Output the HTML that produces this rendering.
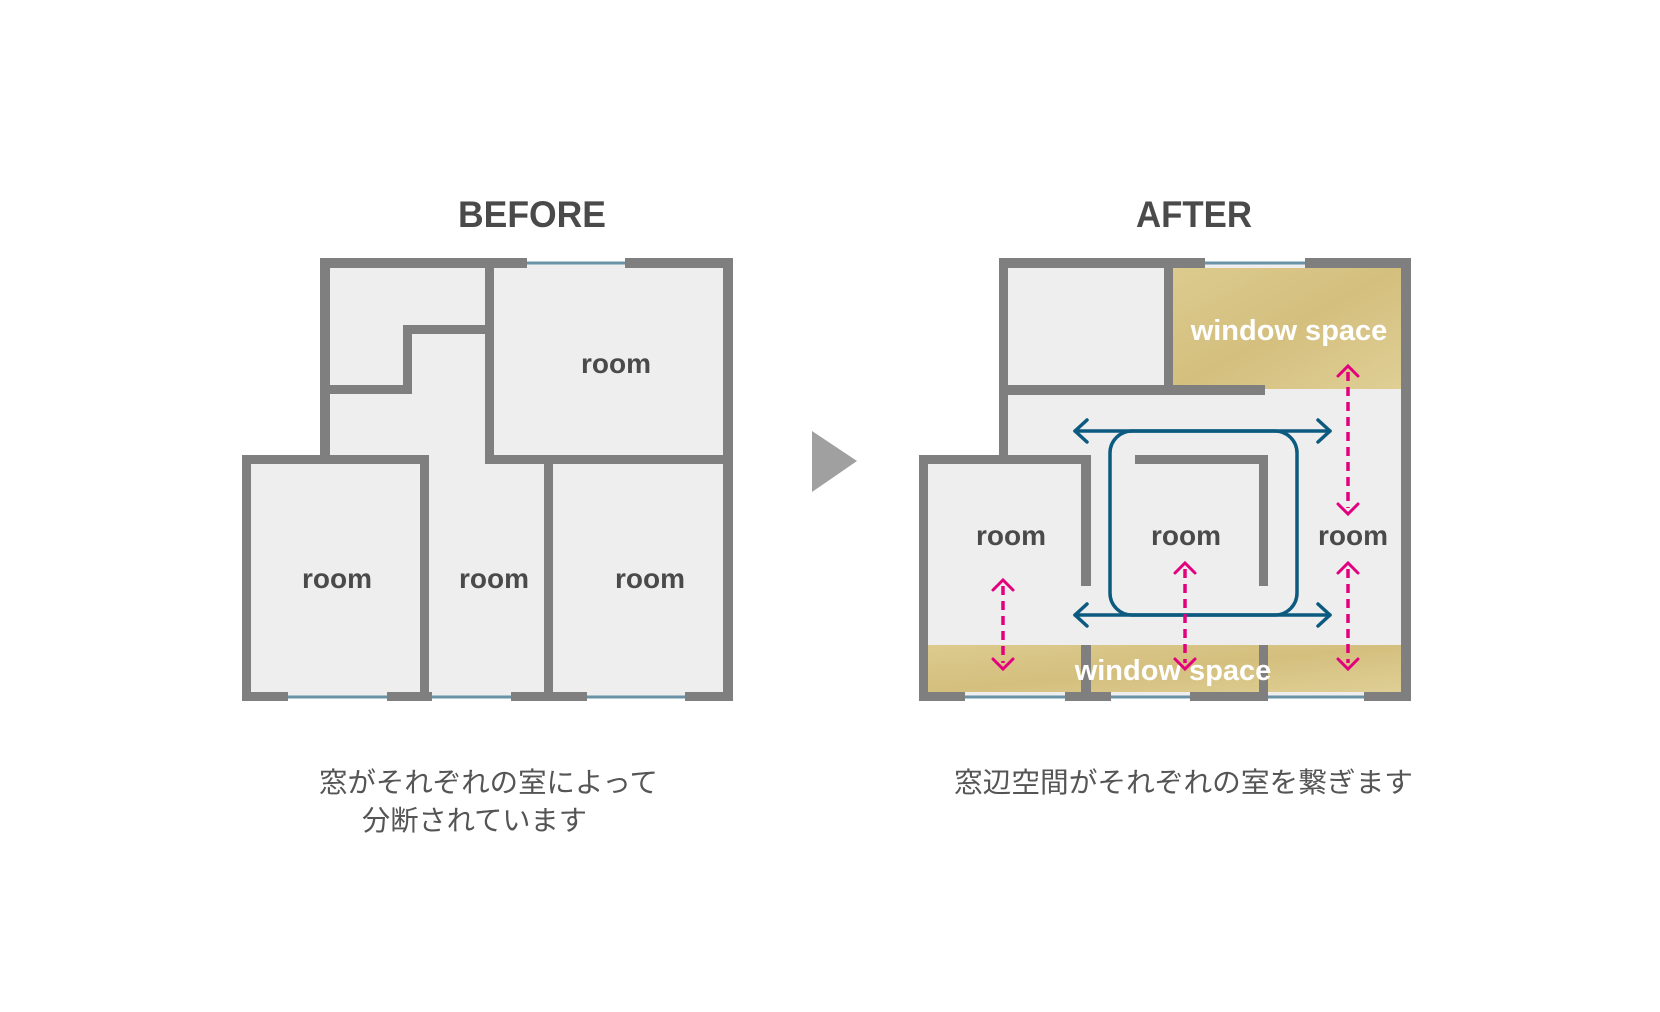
<!DOCTYPE html>
<html><head><meta charset="utf-8"><style>
html,body{margin:0;padding:0;background:#fff;}
svg{display:block;}
</style></head><body>
<svg width="1660" height="1012" viewBox="0 0 1660 1012" xmlns="http://www.w3.org/2000/svg">
<defs>
<linearGradient id="wood" x1="0" y1="0" x2="1" y2="1">
<stop offset="0" stop-color="#dccb8e"/><stop offset="0.5" stop-color="#d4bf7e"/><stop offset="1" stop-color="#dfcf95"/>
</linearGradient>
</defs>
<g font-family="'Liberation Sans',sans-serif" font-weight="bold" fill="#4a4a4a" text-anchor="middle">
<text x="532" y="227" font-size="37" textLength="148" lengthAdjust="spacingAndGlyphs">BEFORE</text>
<text x="1194" y="227" font-size="37" textLength="116" lengthAdjust="spacingAndGlyphs">AFTER</text>
</g>
<!-- BEFORE -->
<path d="M325,263 H728 V696 H247 V460 H325 Z" fill="#eeeeee"/>
<g fill="#7f7f7f">
<rect x="320" y="258" width="207" height="10"/>
<rect x="625" y="258" width="108" height="10"/>
<rect x="723" y="258" width="10" height="443"/>
<rect x="320" y="258" width="10" height="206"/>
<rect x="485" y="258" width="9" height="206"/>
<rect x="403" y="325" width="91" height="9"/>
<rect x="403" y="325" width="9" height="69"/>
<rect x="320" y="385" width="92" height="9"/>
<rect x="242" y="455" width="187" height="9"/>
<rect x="485" y="455" width="248" height="9"/>
<rect x="242" y="455" width="9" height="246"/>
<rect x="420" y="455" width="9" height="246"/>
<rect x="544" y="455" width="9" height="246"/>
<rect x="242" y="692" width="46" height="9"/>
<rect x="387" y="692" width="45" height="9"/>
<rect x="511" y="692" width="76" height="9"/>
<rect x="685" y="692" width="48" height="9"/>
</g>
<g stroke="#6a93a8" stroke-width="3">
<line x1="527" y1="263" x2="625" y2="263"/>
<line x1="288" y1="697" x2="387" y2="697"/>
<line x1="432" y1="697" x2="511" y2="697"/>
<line x1="587" y1="697" x2="685" y2="697"/>
</g>
<g font-family="'Liberation Sans',sans-serif" font-weight="bold" fill="#4a4a4a" text-anchor="middle" font-size="28">
<text x="616" y="373">room</text>
<text x="337" y="588">room</text>
<text x="494" y="588">room</text>
<text x="650" y="588">room</text>
</g>
<!-- arrow -->
<polygon points="812,431 857,461 812,492" fill="#a0a0a0"/>
<!-- AFTER -->
<path d="M1004,263 H1406 V696 H923 V460 H1004 Z" fill="#eeeeee"/>
<rect x="1173" y="268" width="228" height="121" fill="url(#wood)"/>
<rect x="928" y="645" width="473" height="47" fill="url(#wood)"/>
<g fill="#7f7f7f">
<rect x="999" y="258" width="206" height="10"/>
<rect x="1305" y="258" width="106" height="10"/>
<rect x="1401" y="258" width="10" height="443"/>
<rect x="999" y="258" width="9" height="206"/>
<rect x="1164" y="258" width="9" height="134"/>
<rect x="1008" y="385" width="257" height="10"/>
<rect x="919" y="455" width="172" height="9"/>
<rect x="919" y="455" width="9" height="246"/>
<rect x="1081" y="455" width="10" height="131"/>
<rect x="1081" y="645" width="10" height="56"/>
<rect x="1135" y="455" width="133" height="9"/>
<rect x="1259" y="455" width="9" height="131"/>
<rect x="1259" y="645" width="9" height="56"/>
<rect x="919" y="692" width="46" height="9"/>
<rect x="1065" y="692" width="46" height="9"/>
<rect x="1190" y="692" width="78" height="9"/>
<rect x="1364" y="692" width="47" height="9"/>
</g>
<g stroke="#6a93a8" stroke-width="3">
<line x1="1205" y1="263" x2="1305" y2="263"/>
<line x1="965" y1="697" x2="1065" y2="697"/>
<line x1="1111" y1="697" x2="1190" y2="697"/>
<line x1="1268" y1="697" x2="1364" y2="697"/>
</g>
<g font-family="'Liberation Sans',sans-serif" font-weight="bold" fill="#4a4a4a" text-anchor="middle" font-size="28">
<text x="1011" y="545">room</text>
<text x="1186" y="545">room</text>
<text x="1353" y="545">room</text>
</g>
<g font-family="'Liberation Sans',sans-serif" font-weight="bold" fill="#ffffff" text-anchor="middle" font-size="29">
<text x="1289" y="340">window space</text>
<text x="1173" y="680">window space</text>
</g>
<!-- blue loop -->
<g fill="none" stroke="#0c5a80" stroke-width="3.5" stroke-linecap="round" stroke-linejoin="round">
<rect x="1110" y="431" width="187" height="184" rx="22"/>
<line x1="1075" y1="431" x2="1330" y2="431"/>
<line x1="1075" y1="615" x2="1330" y2="615"/>
<polyline points="1087,420 1075,431 1087,442"/>
<polyline points="1318,420 1330,431 1318,442"/>
<polyline points="1087,604 1075,615 1087,626"/>
<polyline points="1318,604 1330,615 1318,626"/>
</g>
<!-- pink dashed -->
<g stroke="#e3007f" stroke-width="3.5" stroke-dasharray="9 6" fill="none">
<line x1="1348" y1="372" x2="1348" y2="508"/>
<line x1="1348" y1="569" x2="1348" y2="663"/>
<line x1="1185" y1="569" x2="1185" y2="663"/>
<line x1="1003" y1="586" x2="1003" y2="663"/>
</g>
<g stroke="#e3007f" stroke-width="3" fill="none" stroke-linecap="round">
<polyline points="1338,376 1348,366 1358,376"/>
<polyline points="1338,504 1348,514 1358,504"/>
<polyline points="1338,573 1348,563 1358,573"/>
<polyline points="1338,659 1348,669 1358,659"/>
<polyline points="1175,573 1185,563 1195,573"/>
<polyline points="1175,659 1185,669 1195,659"/>
<polyline points="993,590 1003,580 1013,590"/>
<polyline points="993,659 1003,669 1013,659"/>
</g>
<!-- captions -->
<g font-family="'Liberation Sans','Noto Sans CJK JP',sans-serif" fill="#555555" font-size="28">
<text x="319" y="792" textLength="339" lengthAdjust="spacingAndGlyphs">窓がそれぞれの室によって</text>
<text x="362" y="830" textLength="225" lengthAdjust="spacingAndGlyphs">分断されています</text>
<text x="954" y="792" textLength="459" lengthAdjust="spacingAndGlyphs">窓辺空間がそれぞれの室を繋ぎます</text>
</g>
</svg>
</body></html>
